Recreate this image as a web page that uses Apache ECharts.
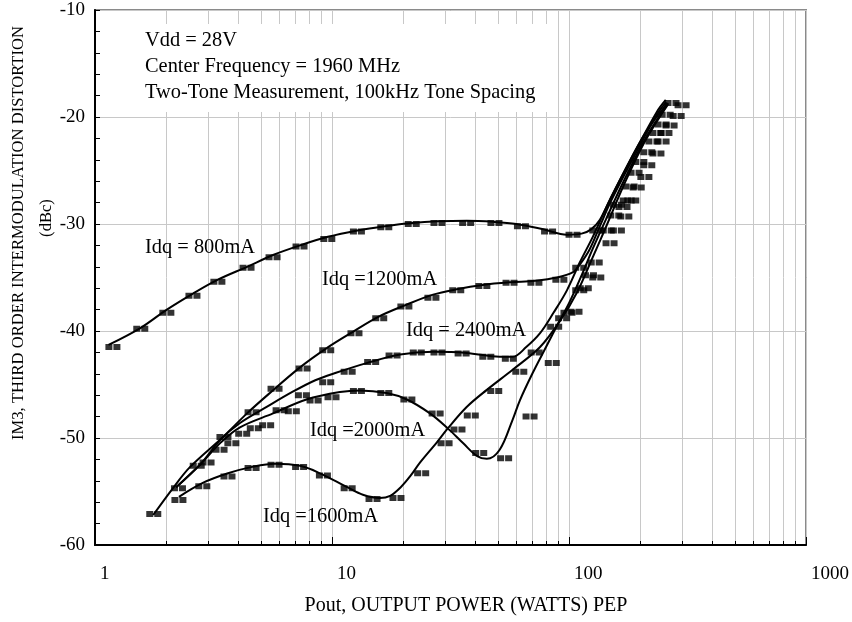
<!DOCTYPE html>
<html><head><meta charset="utf-8">
<script src="https://cdn.jsdelivr.net/npm/echarts@6/dist/echarts.min.js"></script>
<style>html,body{margin:0;padding:0;background:#fff}#c{width:852px;height:622px}</style>
</head><body><div id="c"></div>
<script>
// ---- data (Pout W PEP, IM3 dBc) ----
const xTicks = [1, 10, 100, 1000];
const yRange = [-60, -10];
const seriesNames = ['Idq = 800mA', 'Idq =1200mA', 'Idq = 2400mA', 'Idq =2000mA', 'Idq =1600mA'];
const annotation = ['Vdd = 28V', 'Center Frequency = 1960 MHz', 'Two-Tone Measurement, 100kHz Tone Spacing'];

const curve800 = [[1.14,-41.3],[1.56,-39.7],[2.01,-38.0],[2.59,-36.5],[3.3,-35.2],[4.38,-34.0],[5.64,-32.9],[7.33,-32.0],[9.6,-31.2],[12.8,-30.6],[16.7,-30.2],[21.8,-29.9],[28,-29.75],[37,-29.7],[48,-29.8],[60,-30.0],[78,-30.5],[98,-31.0],[113,-30.9],[124,-30.5],[135,-29.6],[149,-27.7],[186,-23.6],[235,-19.5],[256,-18.4]];
const points800 = [[1.19,-41.5],[1.56,-39.8],[2.01,-38.3],[2.59,-36.7],[3.30,-35.4],[4.38,-34.1],[5.64,-33.1],[7.33,-32.1],[9.6,-31.4],[12.8,-30.7],[16.7,-30.3],[21.8,-30.0],[28,-29.9],[37,-29.9],[48.7,-29.9],[63,-30.2],[82,-30.7],[104,-31.0],[131,-30.6],[160,-28.2],[190,-25.2],[215,-23.3],[235,-21.5],[257,-19.8],[272,-18.7]];

const curve1200 = [[1.76,-57.2],[2.13,-54.7],[2.52,-52.7],[3.47,-49.9],[4.38,-47.7],[5.4,-45.9],[7.33,-43.4],[9.5,-41.6],[12.2,-40.1],[15.6,-38.7],[20.3,-37.6],[26.7,-36.6],[33.6,-36.1],[43.3,-35.7],[56.4,-35.45],[72,-35.3],[89,-35.0],[104,-34.5],[111,-33.8],[122,-32.4],[135,-30.2],[150,-27.9],[187,-23.8],[236,-19.7],[257,-18.6]];
const points1200 = [[1.77,-57.1],[2.25,-54.7],[2.7,-52.6],[3.5,-49.9],[4.6,-47.6],[5.75,-45.4],[7.55,-43.5],[9.5,-41.8],[12.5,-40.2],[15.9,-38.8],[20.3,-37.7],[26.4,-36.9],[33.6,-36.2],[43.3,-35.8],[56.4,-35.5],[71.8,-35.5],[91.5,-35.2],[111,-34.1],[129,-33.6],[145,-30.6],[176,-27.8],[199,-24.2],[226,-22.3],[247,-20.7],[300,-18.9]];

const curve2400 = [[2.2,-54.6],[2.8,-52.4],[3.37,-50.2],[4.09,-48.6],[5.3,-47.1],[6.8,-45.7],[8.5,-44.6],[10.4,-43.9],[14,-43.0],[19.4,-42.2],[26.7,-41.95],[37,-42.05],[51,-42.4],[58,-42.4],[66,-41.5],[75.5,-40.2],[86,-38.3],[98,-36.2],[111,-33.6],[126,-31.2],[144,-28.4],[170,-25.2],[210,-21.5],[260,-18.7]];
const points2400 = [[3.78,-50.5],[4.7,-49.1],[6.04,-47.4],[7.5,-46.0],[9.5,-44.8],[11.7,-43.8],[14.7,-42.9],[18.1,-42.3],[22.9,-42.0],[28,-42.0],[35.4,-42.1],[45,-42.4],[56,-42.6],[72,-42.0],[85,-43.0],[99,-38.3],[116,-36.0],[149,-31.8],[172,-29.3],[194,-26.6],[215,-24.5],[247,-22.3],[286,-19.9]];

const curve2000 = [[2.2,-54.6],[2.8,-52.4],[3.4,-50.4],[4.09,-49.0],[5.64,-47.7],[7.8,-46.4],[10.8,-45.7],[13.1,-45.55],[17,-45.8],[20.7,-46.4],[25.9,-47.7],[30.8,-49.1],[35.8,-50.5],[41,-51.7],[45,-51.95],[51,-51.1],[57.8,-48.3],[62,-46.5],[70,-44.0],[80,-41.5],[90,-39.3],[100,-37.4],[112,-35.0],[126,-32.3],[145,-29.3],[170,-26.0],[210,-22.0],[262,-18.7]];
const points2000 = [[2.97,-52.3],[3.37,-51.1],[4.2,-49.6],[5.3,-48.8],[6.8,-47.5],[8.4,-46.5],[10,-46.2],[12.8,-45.6],[16.7,-45.8],[20.9,-46.4],[27.5,-47.7],[34,-49.2],[42,-51.4],[53.5,-51.9],[68.5,-48.0],[94,-38.8],[111,-36.2],[131,-35.0],[160,-30.6],[169,-28.4],[184,-27.8],[254,-21.5]];

const curve1600 = [[2.26,-55.5],[2.85,-54.2],[3.64,-53.3],[4.6,-52.7],[5.75,-52.4],[7.33,-52.6],[8.9,-53.3],[11.6,-54.6],[13.5,-55.3],[15.9,-55.6],[17.6,-55.4],[19.5,-54.6],[21.5,-53.5],[23.5,-52.3],[27.7,-50.4],[30.8,-49.1],[37,-47.1],[45,-45.5],[58,-43.6],[75.5,-41.5],[92,-39.0],[108,-36.4],[126,-33.1],[145,-30.0],[170,-26.4],[210,-22.2],[262,-18.8]];
const points1600 = [[2.26,-55.8],[2.85,-54.5],[3.64,-53.6],[4.6,-52.8],[5.75,-52.5],[7.3,-52.7],[9.2,-53.5],[11.7,-54.7],[14.9,-55.7],[18.8,-55.6],[23.9,-53.3],[30,-50.5],[38.7,-47.9],[48.6,-45.6],[62,-43.8],[87,-39.6],[106,-38.2],[122,-34.8],[156,-29.2],[181,-26.5],[209,-25.6],[235,-23.4],[267,-20.8]];

// ---- chart ----
const FONT = '"Liberation Serif", "Times New Roman", serif';
const minorX = [];
for (let d = 1; d < 1000; d *= 10) for (let k = 2; k <= 9; k++) minorX.push(d * k);

const curves = [curve800, curve1200, curve2400, curve2000, curve1600];
const points = [points800, points1200, points2400, points2000, points1600];
const markerPath = 'path://M0 0H7V6H0Z M8 0H15V6H8Z';

const series = [{
  type: 'custom', silent: true, z: 1,
  data: minorX.map(v => [v, -35]),
  encode: { x: 0, y: 1 },
  renderItem(params, api) {
    const v = api.value(0);
    const t = api.coord([v, yRange[1]]);
    const b = api.coord([v, yRange[0]]);
    const x = Math.round(t[0]) + 0.5;
    return { type: 'group', children: [
      { type: 'line', shape: { x1: x, y1: t[1], x2: x, y2: b[1] }, style: { stroke: '#c8c8c8', lineWidth: 1 } },
      { type: 'line', shape: { x1: x, y1: b[1], x2: x, y2: b[1] - 4 }, style: { stroke: '#000', lineWidth: 1 } }
    ]};
  }
}];
curves.forEach((c, i) => series.push({
  name: seriesNames[i], type: 'line', data: c, smooth: 0.35, showSymbol: false, symbol: 'none',
  lineStyle: { color: '#000', width: 2 }, z: 3, silent: true, animation: false
}));
points.forEach((p, i) => series.push({
  name: seriesNames[i] + ' data', type: 'scatter', data: p, symbol: markerPath, symbolSize: [15, 6],
  itemStyle: { color: '#000' }, z: 4, silent: true, animation: false
}));

const labelPos = [[145, 248], [322, 280], [406, 331], [310, 431], [263, 517]];
const graphics = [
  { type: 'rect', shape: { x: 133, y: 24, width: 416, height: 88 }, style: { fill: '#fff' }, z: 100, silent: true },
  { type: 'text', x: 466, y: 606, z: 101, style: { text: 'Pout, OUTPUT POWER (WATTS) PEP', font: '20px ' + FONT, fill: '#000', textAlign: 'center', textVerticalAlign: 'middle' } },
  { type: 'text', x: 19, y: 233, rotation: Math.PI / 2, z: 101, style: { text: 'IM3, THIRD ORDER INTERMODULATION DISTORTION', font: '16.6px ' + FONT, fill: '#000', textAlign: 'center', textVerticalAlign: 'middle' } },
  { type: 'text', x: 47, y: 218, rotation: Math.PI / 2, z: 101, style: { text: '(dBc)', font: '16.6px ' + FONT, fill: '#000', textAlign: 'center', textVerticalAlign: 'middle' } }
];
annotation.forEach((t, i) => graphics.push({ type: 'text', x: 145, y: 41 + i * 26, z: 101,
  style: { text: t, font: '20.4px ' + FONT, fill: '#000', textAlign: 'left', textVerticalAlign: 'middle' } }));
seriesNames.forEach((t, i) => graphics.push({ type: 'text', x: labelPos[i][0], y: labelPos[i][1], z: 101,
  style: { text: t, font: '20.4px ' + FONT, fill: '#000', textAlign: 'left', textVerticalAlign: 'middle' } }));

const chart = echarts.init(document.getElementById('c'), null, { renderer: 'canvas' });
chart.setOption({
  animation: false,
  backgroundColor: '#fff',
  grid: { left: 95, right: 46, top: 10, bottom: 77, show: true, borderColor: '#8a8a8a', borderWidth: 2, backgroundColor: 'transparent' },
  xAxis: {
    type: 'log', logBase: 10, min: xTicks[0], max: xTicks[xTicks.length - 1],
    axisLine: { show: true, lineStyle: { color: '#000', width: 2 } },
    axisTick: { show: true, inside: true, length: 8, lineStyle: { color: '#000', width: 1 } },
    splitLine: { show: true, lineStyle: { color: '#c8c8c8', width: 1 } },
    axisLabel: { color: '#000', fontFamily: FONT, fontSize: 19, align: 'left', padding: [0, 0, 0, 5], margin: 20,
      showMinLabel: true, showMaxLabel: true, formatter: v => String(Math.round(v)) }
  },
  yAxis: {
    type: 'value', min: yRange[0], max: yRange[1], interval: 10,
    axisLine: { show: true, lineStyle: { color: '#000', width: 2 } },
    axisTick: { show: true, inside: true, length: 5, lineStyle: { color: '#000', width: 1 } },
    minorTick: { show: true, splitNumber: 5, length: 5, lineStyle: { color: '#000', width: 1 } },
    splitLine: { show: true, lineStyle: { color: '#c8c8c8', width: 1 } },
    axisLabel: { color: '#000', fontFamily: FONT, fontSize: 19, margin: 10 }
  },
  series: series,
  graphic: graphics
});
</script>
</body></html>
